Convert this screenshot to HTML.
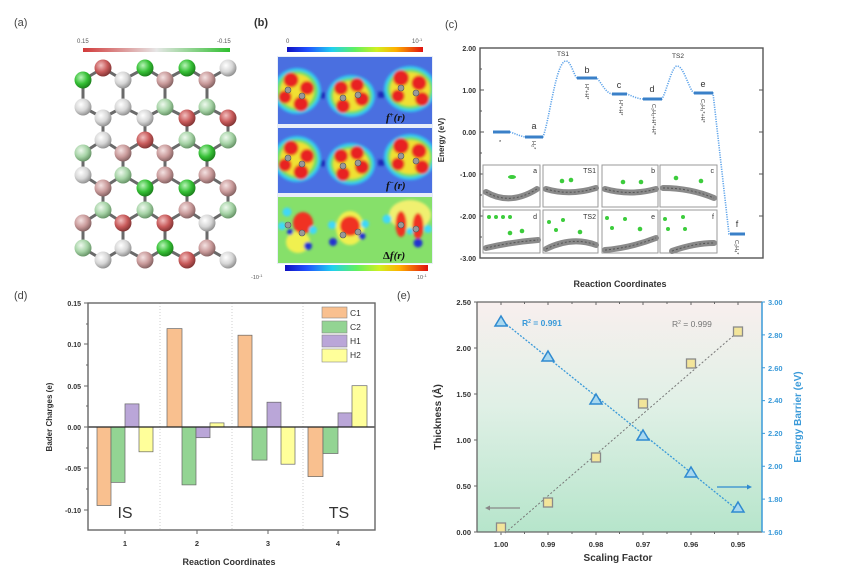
<!DOCTYPE html>
<html><head><meta charset="utf-8"><style>
html,body{margin:0;padding:0;background:#fff;}
svg{display:block;font-family:"Liberation Sans",sans-serif;}
</style></head><body>
<svg width="842" height="585" viewBox="0 0 842 585" xmlns="http://www.w3.org/2000/svg">
<defs>
<linearGradient id="cbA" x1="0" x2="1" y1="0" y2="0"><stop offset="0" stop-color="#d23a3a"/><stop offset="0.5" stop-color="#e6e6e6"/><stop offset="1" stop-color="#2fbf2f"/></linearGradient>
<linearGradient id="jet" x1="0" x2="1" y1="0" y2="0"><stop offset="0" stop-color="#1010c0"/><stop offset="0.15" stop-color="#2050ff"/><stop offset="0.33" stop-color="#20d0f0"/><stop offset="0.5" stop-color="#60f060"/><stop offset="0.66" stop-color="#d0f020"/><stop offset="0.8" stop-color="#ffb000"/><stop offset="1" stop-color="#e01010"/></linearGradient>
<radialGradient id="gR" cx="0.38" cy="0.35" r="0.7"><stop offset="0" stop-color="#f2c0c0"/><stop offset="0.55" stop-color="#c85a5a"/><stop offset="1" stop-color="#7a3030"/></radialGradient>
<radialGradient id="gP" cx="0.38" cy="0.35" r="0.7"><stop offset="0" stop-color="#f4e2e2"/><stop offset="0.55" stop-color="#c99a9a"/><stop offset="1" stop-color="#7d5c5c"/></radialGradient>
<radialGradient id="gW" cx="0.38" cy="0.35" r="0.7"><stop offset="0" stop-color="#ffffff"/><stop offset="0.55" stop-color="#d6d6d6"/><stop offset="1" stop-color="#888"/></radialGradient>
<radialGradient id="gL" cx="0.38" cy="0.35" r="0.7"><stop offset="0" stop-color="#eef9ee"/><stop offset="0.55" stop-color="#a6d3a6"/><stop offset="1" stop-color="#5f8c5f"/></radialGradient>
<radialGradient id="gG" cx="0.38" cy="0.35" r="0.7"><stop offset="0" stop-color="#b8f4b8"/><stop offset="0.55" stop-color="#36c036"/><stop offset="1" stop-color="#187818"/></radialGradient>
<linearGradient id="bgE" x1="0" x2="0" y1="0" y2="1"><stop offset="0" stop-color="#f8efee"/><stop offset="0.45" stop-color="#e0f0e6"/><stop offset="1" stop-color="#b6e5cb"/></linearGradient>
<filter id="bl" x="-20%" y="-20%" width="140%" height="140%"><feGaussianBlur stdDeviation="1.3"/></filter>
<clipPath id="cb1"><rect x="278" y="57" width="154" height="67"/></clipPath>
<clipPath id="cb2"><rect x="278" y="128" width="154" height="65"/></clipPath>
<clipPath id="cb3"><rect x="278" y="197" width="154" height="66"/></clipPath>
<g id="fcl">
  <path d="M278 96 L432 94" stroke="#1a28b8" stroke-width="6" stroke-dasharray="7 3" fill="none"/>
  <ellipse cx="297" cy="91" rx="24" ry="23" fill="#30c8f0"/>
  <ellipse cx="351" cy="96" rx="24" ry="21" fill="#30c8f0"/>
  <ellipse cx="410" cy="89" rx="26" ry="23" fill="#30c8f0"/>
  <ellipse cx="297" cy="91" rx="21" ry="20" fill="#70e060"/>
  <ellipse cx="351" cy="96" rx="21" ry="18" fill="#70e060"/>
  <ellipse cx="410" cy="89" rx="23" ry="20" fill="#70e060"/>
  <ellipse cx="297" cy="91" rx="17" ry="17" fill="#f0e030"/>
  <ellipse cx="351" cy="96" rx="18" ry="15" fill="#f0e030"/>
  <ellipse cx="410" cy="89" rx="20" ry="17" fill="#f0e030"/>
  <g fill="#e82020">
    <circle cx="291" cy="80" r="7.5"/><circle cx="307" cy="88" r="7"/><circle cx="285" cy="97" r="6.5"/><circle cx="301" cy="104" r="7.5"/>
    <circle cx="341" cy="88" r="7"/><circle cx="357" cy="85" r="7"/><circle cx="343" cy="106" r="7"/><circle cx="362" cy="99" r="7"/>
    <circle cx="401" cy="78" r="8"/><circle cx="419" cy="83" r="7.5"/><circle cx="398" cy="96" r="6.5"/><circle cx="422" cy="99" r="7"/>
  </g>
</g>
</defs>
<rect width="842" height="585" fill="#fff"/>

<!-- ================= (a) ================= -->
<text x="14" y="26" font-size="11" fill="#444">(a)</text>
<rect x="83" y="48" width="147" height="4" fill="url(#cbA)"/>
<text x="77" y="43" font-size="6" fill="#555">0.15</text>
<text x="217" y="43" font-size="6" fill="#555">-0.15</text>
<g stroke="#6a6a6a" stroke-width="3" fill="none">
<path d="M83 80 L103 68 L123 80 L145 68 L165 80 L187 68 L207 80 L228 68"/>
<path d="M83 80V107M123 80V107M165 80V107M207 80V107"/>
<path d="M83 107 L103 118 L123 107 L145 118 L165 107 L187 118 L207 107 L228 118"/>
<path d="M103 118V140M145 118V140M187 118V140M228 118V140"/>
<path d="M83 153 L103 140 L123 153 L145 140 L165 153 L187 140 L207 153 L228 140"/>
<path d="M83 153V175M123 153V175M165 153V175M207 153V175"/>
<path d="M83 175 L103 188 L123 175 L145 188 L165 175 L187 188 L207 175 L228 188"/>
<path d="M103 188V210M145 188V210M187 188V210M228 188V210"/>
<path d="M83 223 L103 210 L123 223 L145 210 L165 223 L187 210 L207 223 L228 210"/>
<path d="M83 223V248M123 223V248M165 223V248M207 223V248"/>
<path d="M83 248 L103 260 L123 248 L145 260 L165 248 L187 260 L207 248 L228 260"/>
</g>
<g>
<circle cx="103" cy="68" r="8.5" fill="url(#gR)"/><circle cx="145" cy="68" r="8.5" fill="url(#gG)"/><circle cx="187" cy="68" r="8.5" fill="url(#gG)"/><circle cx="228" cy="68" r="8.5" fill="url(#gW)"/>
<circle cx="83" cy="80" r="8.5" fill="url(#gG)"/><circle cx="123" cy="80" r="8.5" fill="url(#gW)"/><circle cx="165" cy="80" r="8.5" fill="url(#gP)"/><circle cx="207" cy="80" r="8.5" fill="url(#gP)"/>
<circle cx="83" cy="107" r="8.5" fill="url(#gW)"/><circle cx="123" cy="107" r="8.5" fill="url(#gW)"/><circle cx="165" cy="107" r="8.5" fill="url(#gL)"/><circle cx="207" cy="107" r="8.5" fill="url(#gL)"/>
<circle cx="103" cy="118" r="8.5" fill="url(#gW)"/><circle cx="145" cy="118" r="8.5" fill="url(#gW)"/><circle cx="187" cy="118" r="8.5" fill="url(#gR)"/><circle cx="228" cy="118" r="8.5" fill="url(#gR)"/>
<circle cx="103" cy="140" r="8.5" fill="url(#gW)"/><circle cx="145" cy="140" r="8.5" fill="url(#gR)"/><circle cx="187" cy="140" r="8.5" fill="url(#gL)"/><circle cx="228" cy="140" r="8.5" fill="url(#gL)"/>
<circle cx="83" cy="153" r="8.5" fill="url(#gL)"/><circle cx="123" cy="153" r="8.5" fill="url(#gP)"/><circle cx="165" cy="153" r="8.5" fill="url(#gP)"/><circle cx="207" cy="153" r="8.5" fill="url(#gG)"/>
<circle cx="83" cy="175" r="8.5" fill="url(#gW)"/><circle cx="123" cy="175" r="8.5" fill="url(#gL)"/><circle cx="165" cy="175" r="8.5" fill="url(#gP)"/><circle cx="207" cy="175" r="8.5" fill="url(#gP)"/>
<circle cx="103" cy="188" r="8.5" fill="url(#gP)"/><circle cx="145" cy="188" r="8.5" fill="url(#gG)"/><circle cx="187" cy="188" r="8.5" fill="url(#gG)"/><circle cx="228" cy="188" r="8.5" fill="url(#gP)"/>
<circle cx="103" cy="210" r="8.5" fill="url(#gL)"/><circle cx="145" cy="210" r="8.5" fill="url(#gL)"/><circle cx="187" cy="210" r="8.5" fill="url(#gP)"/><circle cx="228" cy="210" r="8.5" fill="url(#gL)"/>
<circle cx="83" cy="223" r="8.5" fill="url(#gP)"/><circle cx="123" cy="223" r="8.5" fill="url(#gR)"/><circle cx="165" cy="223" r="8.5" fill="url(#gR)"/><circle cx="207" cy="223" r="8.5" fill="url(#gW)"/>
<circle cx="83" cy="248" r="8.5" fill="url(#gL)"/><circle cx="123" cy="248" r="8.5" fill="url(#gW)"/><circle cx="165" cy="248" r="8.5" fill="url(#gG)"/><circle cx="207" cy="248" r="8.5" fill="url(#gP)"/>
<circle cx="103" cy="260" r="8.5" fill="url(#gW)"/><circle cx="145" cy="260" r="8.5" fill="url(#gP)"/><circle cx="187" cy="260" r="8.5" fill="url(#gR)"/><circle cx="228" cy="260" r="8.5" fill="url(#gW)"/>
</g>

<!-- ================= (b) ================= -->
<text x="254" y="26" font-size="11" fill="#333" font-weight="bold">(b)</text>
<rect x="287" y="47" width="136" height="5" fill="url(#jet)"/>
<text x="286" y="43" font-size="6" fill="#555">0</text>
<text x="412" y="43" font-size="6" fill="#555">10<tspan dy="-2" font-size="4">-1</tspan></text>
<rect x="277" y="56" width="156" height="208" fill="#e8eef8"/>
<g clip-path="url(#cb1)">
  <rect x="278" y="57" width="154" height="67" fill="#4a6fe0"/>
  <g filter="url(#bl)"><use href="#fcl"/></g>
  <g fill="#999" stroke="#555" stroke-width="0.6"><circle cx="288" cy="90" r="3"/><circle cx="302" cy="96" r="3"/><circle cx="343" cy="98" r="3"/><circle cx="358" cy="95" r="3"/><circle cx="401" cy="88" r="3"/><circle cx="416" cy="93" r="3"/></g>
</g>
<g clip-path="url(#cb2)">
  <rect x="278" y="128" width="154" height="65" fill="#4a70e2"/>
  <g filter="url(#bl)" transform="translate(0,68)"><use href="#fcl"/></g>
  <g fill="#999" stroke="#555" stroke-width="0.6" transform="translate(0,68)"><circle cx="288" cy="90" r="3"/><circle cx="302" cy="96" r="3"/><circle cx="343" cy="98" r="3"/><circle cx="358" cy="95" r="3"/><circle cx="401" cy="88" r="3"/><circle cx="416" cy="93" r="3"/></g>
</g>
<g clip-path="url(#cb3)">
  <rect x="278" y="197" width="154" height="66" fill="#86e06a"/>
  <g filter="url(#bl)">
    <ellipse cx="410" cy="215" rx="21" ry="15" fill="#f0f070"/>
    <ellipse cx="298" cy="242" rx="12" ry="11" fill="#f0f050"/>
    <ellipse cx="350" cy="228" rx="14" ry="17" fill="#f0f050"/>
    <ellipse cx="303" cy="223" rx="10" ry="11" fill="#f03020"/>
    <ellipse cx="350" cy="226" rx="10" ry="10" fill="#f03020"/>
    <ellipse cx="401" cy="224" rx="5.5" ry="13" fill="#f03020"/>
    <ellipse cx="418" cy="226" rx="5.5" ry="13" fill="#f03020"/>
    <g fill="#40d8f8"><circle cx="287" cy="212" r="4.5"/><circle cx="313" cy="230" r="4"/><circle cx="282" cy="226" r="4"/><circle cx="332" cy="225" r="4"/><circle cx="365" cy="224" r="4"/><circle cx="387" cy="219" r="4.5"/><circle cx="428" cy="229" r="4"/><circle cx="410" cy="231" r="3.5"/></g>
    <g fill="#2030d0"><circle cx="308" cy="246" r="4"/><circle cx="333" cy="242" r="4"/><circle cx="362" cy="236" r="3.5"/><circle cx="418" cy="243" r="4.5"/><circle cx="290" cy="232" r="3"/></g>
  </g>
  <g fill="#999" stroke="#555" stroke-width="0.6"><circle cx="288" cy="225" r="3"/><circle cx="302" cy="233" r="3"/><circle cx="343" cy="235" r="3"/><circle cx="358" cy="232" r="3"/><circle cx="401" cy="225" r="3"/><circle cx="416" cy="229" r="3"/></g>
</g>
<text x="386" y="121" font-family="Liberation Serif,serif" font-style="italic" font-weight="bold" font-size="11" fill="#111">f<tspan dy="-4" font-size="7">+</tspan><tspan dy="4">(r)</tspan></text>
<text x="386" y="189" font-family="Liberation Serif,serif" font-style="italic" font-weight="bold" font-size="11" fill="#111">f<tspan dy="-4" font-size="7">−</tspan><tspan dy="4">(r)</tspan></text>
<text x="383" y="259" font-family="Liberation Serif,serif" font-style="italic" font-weight="bold" font-size="11" fill="#111"><tspan font-style="normal">Δ</tspan>f(r)</text>
<rect x="285" y="265" width="143" height="6" fill="url(#jet)"/>
<text x="251" y="279" font-size="5.5" fill="#555">-10<tspan dy="-2" font-size="4">-1</tspan></text>
<text x="417" y="279" font-size="5.5" fill="#555">10<tspan dy="-2" font-size="4">-1</tspan></text>

<!-- ================= (c) ================= -->
<text x="445" y="28" font-size="11" fill="#444">(c)</text>
<rect x="480" y="48" width="283" height="210" fill="#fff" stroke="#555" stroke-width="1.4"/>
<g stroke="#555" stroke-width="1">
<path d="M480 48h4M480 90h4M480 132h4M480 174h4M480 216h4M480 258h4M480 69h2M480 111h2M480 153h2M480 195h2M480 237h2"/>
<path d="M763 48h-4M763 90h-4M763 132h-4M763 174h-4M763 216h-4M763 258h-4"/>
</g>
<g font-size="7" font-weight="bold" fill="#333" text-anchor="end">
<text x="476" y="51">2.00</text><text x="476" y="93">1.00</text><text x="476" y="135">0.00</text><text x="476" y="177">-1.00</text><text x="476" y="219">-2.00</text><text x="476" y="261">-3.00</text>
</g>
<text transform="translate(444,140) rotate(-90)" font-size="8" font-weight="bold" fill="#333" text-anchor="middle">Energy (eV)</text>
<text x="620" y="287" font-size="9" font-weight="bold" fill="#333" text-anchor="middle">Reaction Coordinates</text>
<path d="M493 132 L510 132 C516 134 520 136 525 137 L543 137 C550 118 556 61 566 61 C571 61 574 76 577 78 L597 78 C602 84 606 93 612 94 L627 94 C632 96 638 99 643 99 L662 99 C667 90 672 66 677 66 C684 66 689 90 694 93 L713 93 L729 234 L745 234" fill="none" stroke="#5fa4ea" stroke-width="1.6" stroke-dasharray="1.2 1.2"/>
<g stroke="#3a80c8" stroke-width="3">
<path d="M493 132h17M525 137h18M577 78h20M612 94h15M643 99h19M694 93h19M730 234h15"/>
</g>
<g font-size="9" fill="#333" text-anchor="middle">
<text x="534" y="129">a</text><text x="587" y="73">b</text><text x="619" y="88">c</text><text x="652" y="92">d</text><text x="703" y="87">e</text><text x="737" y="227">f</text>
</g>
<g font-size="6.5" fill="#333" text-anchor="middle"><text x="563" y="56">TS1</text><text x="678" y="58">TS2</text></g>
<g font-size="5.5" fill="#333">
<text x="499" y="144">*</text>
<text transform="translate(532,141) rotate(90)">H₂*</text>
<text transform="translate(585,84) rotate(90)">H*+H*</text>
<text transform="translate(619,100) rotate(90)">H*+H*</text>
<text transform="translate(652,104) rotate(90)">C₂H₂+H*+H*</text>
<text transform="translate(701,99) rotate(90)">C₂H₃*+H*</text>
<text transform="translate(735,240) rotate(90)">C₂H₄*</text>
</g>
<g fill="#fff" stroke="#9a9a9a" stroke-width="1">
<rect x="483" y="165" width="57" height="42"/><rect x="543" y="165" width="55" height="42"/><rect x="602" y="165" width="56" height="42"/><rect x="660" y="165" width="57" height="42"/>
<rect x="483" y="210" width="57" height="43"/><rect x="543" y="210" width="55" height="43"/><rect x="602" y="210" width="56" height="43"/><rect x="660" y="210" width="57" height="43"/>
</g>
<g fill="none" stroke="#8a8a8a" stroke-width="6" stroke-linecap="round">
<path d="M486 192 Q510 206 537 189"/>
<path d="M546 189 Q570 196 596 188"/>
<path d="M605 189 Q630 196 656 189"/>
<path d="M663 188 Q690 188 714 198"/>
<path d="M486 248 Q512 242 538 240"/>
<path d="M546 249 Q572 236 596 245"/>
<path d="M605 250 Q630 248 656 238"/>
<path d="M672 251 Q695 243 714 243"/>
</g>
<g fill="none" stroke="#555" stroke-width="1" stroke-dasharray="2 2">
<path d="M486 192 Q510 206 537 189"/><path d="M546 189 Q570 196 596 188"/><path d="M605 189 Q630 196 656 189"/><path d="M663 188 Q690 188 714 198"/>
<path d="M486 248 Q512 242 538 240"/><path d="M546 249 Q572 236 596 245"/><path d="M605 250 Q630 248 656 238"/><path d="M672 251 Q695 243 714 243"/>
</g>
<g fill="#3ccc3c">
<ellipse cx="512" cy="177" rx="4" ry="2"/>
<circle cx="562" cy="181" r="2.3"/><circle cx="571" cy="180" r="2.3"/>
<circle cx="623" cy="182" r="2.3"/><circle cx="641" cy="182" r="2.3"/>
<circle cx="676" cy="178" r="2.3"/><circle cx="701" cy="181" r="2.3"/>
<circle cx="489" cy="217" r="2"/><circle cx="496" cy="217" r="2"/><circle cx="503" cy="217" r="2"/><circle cx="510" cy="217" r="2"/>
<circle cx="510" cy="233" r="2.3"/><circle cx="522" cy="231" r="2.3"/>
<circle cx="549" cy="222" r="2"/><circle cx="556" cy="230" r="2"/><circle cx="563" cy="220" r="2"/><circle cx="580" cy="232" r="2.3"/>
<circle cx="607" cy="218" r="2"/><circle cx="612" cy="228" r="2"/><circle cx="625" cy="219" r="2"/><circle cx="640" cy="229" r="2.3"/>
<circle cx="665" cy="219" r="2"/><circle cx="668" cy="229" r="2"/><circle cx="683" cy="217" r="2"/><circle cx="685" cy="229" r="2"/>
</g>
<g font-size="7" fill="#333" text-anchor="end">
<text x="537" y="173">a</text><text x="596" y="173">TS1</text><text x="655" y="173">b</text><text x="714" y="173">c</text>
<text x="537" y="219">d</text><text x="596" y="219">TS2</text><text x="655" y="219">e</text><text x="714" y="219">f</text>
</g>

<!-- ================= (d) ================= -->
<text x="14" y="299" font-size="11" fill="#444">(d)</text>
<rect x="88" y="303" width="287" height="227" fill="#fff"/>
<g stroke="#c4c4c4" stroke-width="0.8" stroke-dasharray="1 2"><path d="M160 303V530M232 303V530M303 303V530"/></g>
<g stroke="#666" stroke-width="0.7">
<rect x="97" y="427" width="14" height="78.5" fill="#f9c08f"/>
<rect x="111" y="427" width="14" height="55.4" fill="#93d493"/>
<rect x="125" y="403.9" width="14" height="23.1" fill="#baa6d8"/>
<rect x="139" y="427" width="14" height="24.8" fill="#ffff9a"/>
<rect x="167" y="328.6" width="15" height="98.4" fill="#f9c08f"/>
<rect x="182" y="427" width="14" height="57.9" fill="#93d493"/>
<rect x="196" y="427" width="14" height="10.7" fill="#baa6d8"/>
<rect x="210" y="422.9" width="14" height="4.1" fill="#ffff9a"/>
<rect x="238" y="335.2" width="14" height="91.8" fill="#f9c08f"/>
<rect x="252" y="427" width="15" height="33.1" fill="#93d493"/>
<rect x="267" y="402.2" width="14" height="24.8" fill="#baa6d8"/>
<rect x="281" y="427" width="14" height="37.2" fill="#ffff9a"/>
<rect x="308" y="427" width="15" height="49.6" fill="#f9c08f"/>
<rect x="323" y="427" width="15" height="26.5" fill="#93d493"/>
<rect x="338" y="412.9" width="14" height="14.1" fill="#baa6d8"/>
<rect x="352" y="385.7" width="15" height="41.3" fill="#ffff9a"/>
</g>
<path d="M88 427H375" stroke="#222" stroke-width="1.2"/>
<rect x="88" y="303" width="287" height="227" fill="none" stroke="#666" stroke-width="1.4"/>
<g stroke="#666" stroke-width="1">
<path d="M88 303h-4M88 344h-4M88 386h-4M88 427h-4M88 468h-4M88 510h-4M88 324h-2M88 365h-2M88 406h-2M88 448h-2M88 489h-2"/>
<path d="M125 530v4M197 530v4M268 530v4M338 530v4"/>
</g>
<g font-size="7" font-weight="bold" fill="#333" text-anchor="end">
<text x="81" y="306">0.15</text><text x="81" y="347">0.10</text><text x="81" y="389">0.05</text><text x="81" y="430">0.00</text><text x="81" y="471">-0.05</text><text x="81" y="513">-0.10</text>
</g>
<g font-size="7.5" font-weight="bold" fill="#333" text-anchor="middle">
<text x="125" y="546">1</text><text x="197" y="546">2</text><text x="268" y="546">3</text><text x="338" y="546">4</text>
</g>
<text transform="translate(52,417) rotate(-90)" font-size="8" font-weight="bold" fill="#333" text-anchor="middle">Bader Charges (e)</text>
<text x="229" y="565" font-size="9" font-weight="bold" fill="#333" text-anchor="middle">Reaction Coordinates</text>
<text x="125" y="518" font-size="16" fill="#333" text-anchor="middle">IS</text>
<text x="339" y="518" font-size="16" fill="#333" text-anchor="middle">TS</text>
<g stroke="#888" stroke-width="0.6">
<rect x="322" y="307" width="25" height="11" fill="#f9c08f"/>
<rect x="322" y="321" width="25" height="12" fill="#93d493"/>
<rect x="322" y="335" width="25" height="12" fill="#baa6d8"/>
<rect x="322" y="349" width="25" height="13" fill="#ffff9a"/>
</g>
<g font-size="8.5" fill="#333"><text x="350" y="316">C1</text><text x="350" y="330">C2</text><text x="350" y="344">H1</text><text x="350" y="358">H2</text></g>

<!-- ================= (e) ================= -->
<text x="397" y="299" font-size="11" fill="#444">(e)</text>
<rect x="477" y="302" width="285" height="230" fill="url(#bgE)"/>
<path d="M477 302H762M477 532H762M477 302V532" stroke="#666" stroke-width="1.3" fill="none"/>
<path d="M762 302V532" stroke="#3a9ad9" stroke-width="1.5"/>
<g stroke="#666" stroke-width="1">
<path d="M477 302h-3M477 348h-3M477 394h-3M477 440h-3M477 486h-3M477 532h-3"/>
<path d="M501 532v3M548 532v3M596 532v3M643 532v3M691 532v3M738 532v3M524.5 532v2M572 532v2M619.5 532v2M667 532v2M714.5 532v2"/>
<path d="M501 302v3M548 302v3M596 302v3M643 302v3M691 302v3M738 302v3M524.5 302v2M572 302v2M619.5 302v2M667 302v2M714.5 302v2"/>
</g>
<g stroke="#3a9ad9" stroke-width="1"><path d="M762 302h3M762 334.9h3M762 367.7h3M762 400.6h3M762 433.4h3M762 466.3h3M762 499.1h3M762 532h3"/></g>
<g font-size="7.5" font-weight="bold" fill="#333" text-anchor="end">
<text x="471" y="305">2.50</text><text x="471" y="351">2.00</text><text x="471" y="397">1.50</text><text x="471" y="443">1.00</text><text x="471" y="489">0.50</text><text x="471" y="535">0.00</text>
</g>
<g font-size="7.5" font-weight="bold" fill="#3a9ad9">
<text x="768" y="305">3.00</text><text x="768" y="338">2.80</text><text x="768" y="371">2.60</text><text x="768" y="403">2.40</text><text x="768" y="436">2.20</text><text x="768" y="469">2.00</text><text x="768" y="502">1.80</text><text x="768" y="535">1.60</text>
</g>
<g font-size="7.5" font-weight="bold" fill="#333" text-anchor="middle">
<text x="501" y="547">1.00</text><text x="548" y="547">0.99</text><text x="596" y="547">0.98</text><text x="643" y="547">0.97</text><text x="691" y="547">0.96</text><text x="738" y="547">0.95</text>
</g>
<text x="618" y="561" font-size="10" font-weight="bold" fill="#333" text-anchor="middle">Scaling Factor</text>
<text transform="translate(441,417) rotate(-90)" font-size="10" font-weight="bold" fill="#333" text-anchor="middle">Thickness (Å)</text>
<text transform="translate(801,417) rotate(-90)" font-size="10" font-weight="bold" fill="#3a9ad9" text-anchor="middle">Energy Barrier (eV)</text>
<path d="M505 533 L740 330" stroke="#777" stroke-width="1" stroke-dasharray="2 2" fill="none"/>
<path d="M501 320 L740 512" stroke="#3a9ad9" stroke-width="1.3" stroke-dasharray="2 1.5" fill="none"/>
<g fill="#f3e59a" stroke="#8a8a8a" stroke-width="1.3">
<rect x="496.5" y="523" width="9" height="9"/><rect x="543.5" y="498" width="9" height="9"/><rect x="591.5" y="453" width="9" height="9"/><rect x="638.5" y="399" width="9" height="9"/><rect x="686.5" y="359" width="9" height="9"/><rect x="733.5" y="327" width="9" height="9"/>
</g>
<g fill="#a8d8f0" stroke="#2f8ad0" stroke-width="1.5">
<path d="M501 316 l6 10 h-12z"/><path d="M548 351 l6 10 h-12z"/><path d="M596 394 l6 10 h-12z"/><path d="M643 430 l6 10 h-12z"/><path d="M691 467 l6 10 h-12z"/><path d="M738 502 l6 10 h-12z"/>
</g>
<text x="522" y="326" font-size="8.5" font-weight="bold" fill="#3a9ad9">R<tspan dy="-3" font-size="5">2</tspan><tspan dy="3"> = 0.991</tspan></text>
<text x="672" y="327" font-size="8.5" fill="#777">R<tspan dy="-3" font-size="5">2</tspan><tspan dy="3"> = 0.999</tspan></text>
<path d="M520 508H488" stroke="#888" stroke-width="1.3"/><path d="M485 508l5 -2.5v5z" fill="#888"/>
<path d="M717 487H749" stroke="#2f8ad0" stroke-width="1.3"/><path d="M752 487l-5 -2.5v5z" fill="#2f8ad0"/>
</svg>
</body></html>
